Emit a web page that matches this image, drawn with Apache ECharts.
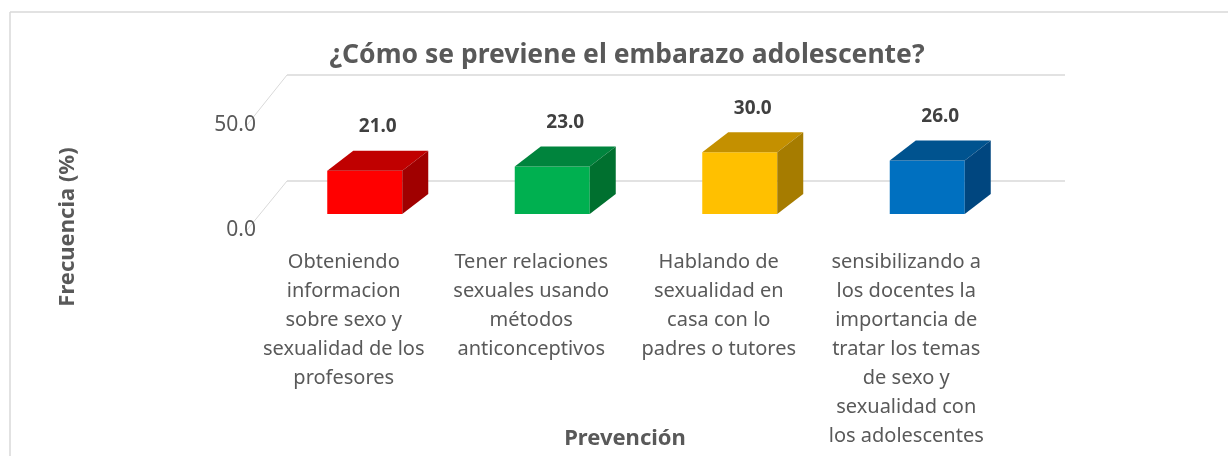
<!DOCTYPE html>
<html>
<head>
<meta charset="utf-8">
<script src="https://cdn.jsdelivr.net/npm/echarts@6/dist/echarts.min.js"></script>
<style>
  html, body { margin: 0; padding: 0; background: #fff; }
</style>
</head>
<body>
<div id="main" style="width: 1228px; height: 456px"></div>
<script>
var categories = [
  "Obteniendo\ninformacion\nsobre sexo y\nsexualidad de los\nprofesores",
  "Tener relaciones\nsexuales usando\nmétodos\nanticonceptivos",
  "Hablando de\nsexualidad en\ncasa con lo\npadres o tutores",
  "sensibilizando a\nlos docentes la\nimportancia de\ntratar los temas\nde sexo y\nsexualidad con\nlos adolescentes"
];
var values = [21.0, 23.0, 30.0, 26.0];
var yTicks = [0, 50];

// front, top, side colours per bar
var faceColors = ["#FF0000", "#00B050", "#FFC000", "#0070C0"];
var topColors = ["#C00000", "#00843D", "#C49000", "#00538F"];
var sideColors = ["#A00000", "#00702F", "#A67C00", "#00467F"];

var font = "'Noto Sans', 'Open Sans', sans-serif";
var depthX = 26, depthY = -20;

var myChart = echarts.init(document.getElementById("main"));

function renderBar(params, api) {
  var i = api.value(0);
  var v = api.value(1);
  var p0 = api.coord([i, 0]);
  var p1 = api.coord([i, v]);
  var w = api.size([1, 0])[0] * 0.4;
  var x = p0[0] - w / 2;
  var yt = p1[1], yb = p0[1];
  return {
    type: "group",
    children: [
      {
        type: "rect",
        shape: { x: x, y: yt, width: w, height: yb - yt },
        style: { fill: faceColors[i] }
      },
      {
        type: "polygon",
        shape: { points: [[x, yt], [x + w, yt], [x + w + depthX, yt + depthY], [x + depthX, yt + depthY]] },
        style: { fill: topColors[i] }
      },
      {
        type: "polygon",
        shape: { points: [[x + w, yt], [x + w + depthX, yt + depthY], [x + w + depthX, yb + depthY], [x + w, yb]] },
        style: { fill: sideColors[i] }
      },
      {
        type: "text",
        x: x + w / 2 + depthX / 2,
        y: yt + depthY - 24,
        style: {
          text: v.toFixed(1),
          fill: "#404040",
          font: "bold 19px " + font,
          align: "center",
          verticalAlign: "middle"
        }
      }
    ]
  };
}

var option = {
  animation: false,
  title: {
    text: "¿Cómo se previene el embarazo adolescente?",
    left: 622,
    top: 37,
    textAlign: "center",
    textStyle: { fontFamily: font, fontSize: 26.5, fontWeight: "bold", color: "#595959" }
  },
  graphic: [
    { type: "line", shape: { x1: 10, y1: 12, x2: 1228, y2: 12 }, style: { stroke: "#d9d9d9", lineWidth: 1.5 } },
    { type: "line", shape: { x1: 10, y1: 12, x2: 10, y2: 456 }, style: { stroke: "#d9d9d9", lineWidth: 1.5 } },
    { type: "line", shape: { x1: 247, y1: 125, x2: 287, y2: 75 }, style: { stroke: "#d9d9d9", lineWidth: 1 } },
    { type: "line", shape: { x1: 247, y1: 230, x2: 287, y2: 181 }, style: { stroke: "#d9d9d9", lineWidth: 1 } },
    {
      type: "text",
      x: 68,
      y: 227,
      rotation: Math.PI / 2,
      style: {
        text: "Frecuencia (%)",
        font: "bold 22px " + font,
        fill: "#595959",
        align: "center",
        verticalAlign: "middle"
      }
    }
  ],
  grid: [
    // front plane: labels
    { left: 250, right: 228, top: 125, bottom: 226, outerBoundsMode: "none" },
    // back wall: gridlines
    { left: 287, right: 163, top: 75, bottom: 275, outerBoundsMode: "none" },
    // bar plane
    { left: 271, right: 207, top: 111, bottom: 242, outerBoundsMode: "none" }
  ],
  xAxis: [
    {
      gridIndex: 0,
      type: "category",
      data: categories,
      axisLine: { show: false },
      axisTick: { show: false },
      axisLabel: {
        interval: 0,
        margin: 18,
        color: "#595959",
        fontFamily: font,
        fontSize: 20,
        lineHeight: 29
      },
      name: "Prevención",
      nameLocation: "middle",
      nameGap: 198,
      nameMoveOverlap: false,
      nameTextStyle: { fontFamily: font, fontSize: 22, fontWeight: "bold", color: "#595959" }
    },
    { gridIndex: 1, type: "category", data: categories, show: false },
    { gridIndex: 2, type: "category", data: categories, show: false }
  ],
  yAxis: [
    {
      gridIndex: 0,
      type: "value",
      min: 0,
      max: 50,
      interval: 50,
      axisLine: { show: false },
      axisTick: { show: false },
      splitLine: { show: false },
      axisLabel: {
        margin: -6,
        color: "#595959",
        fontFamily: font,
        fontSize: 21,
        formatter: function (v) { return yTicks.indexOf(v) >= 0 ? v.toFixed(1) : ""; }
      }
    },
    {
      gridIndex: 1,
      type: "value",
      min: 0,
      max: 50,
      interval: 50,
      axisLine: { show: false },
      axisTick: { show: false },
      axisLabel: { show: false },
      splitLine: { show: true, lineStyle: { color: "#d9d9d9", width: 1.5 } }
    },
    { gridIndex: 2, type: "value", min: 0, max: 50, show: false }
  ],
  series: [
    {
      type: "custom",
      xAxisIndex: 2,
      yAxisIndex: 2,
      renderItem: renderBar,
      data: values.map(function (v, i) { return [i, v]; })
    }
  ]
};
myChart.setOption(option);
</script>
</body>
</html>
